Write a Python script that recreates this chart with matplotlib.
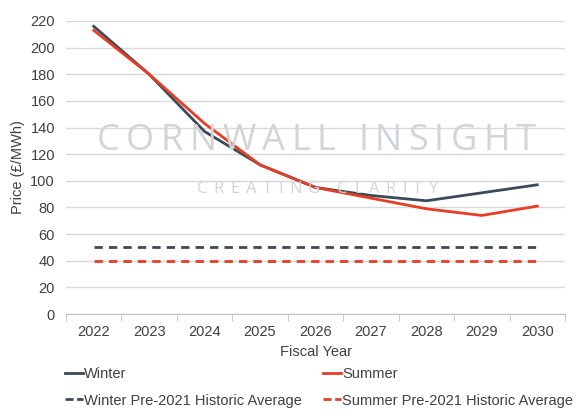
import matplotlib
matplotlib.use("Agg")
import matplotlib.pyplot as plt
from matplotlib.lines import Line2D

years = ["2022", "2023", "2024", "2025", "2026", "2027", "2028", "2029", "2030"]
winter = [216, 180, 137, 112, 95, 89, 85, 91, 97]
summer = [213, 180, 143, 112, 95, 87, 79, 74, 81]
winter_avg = [50] * 9
summer_avg = [40] * 9

WIN_C = "#3b4a5a"
SUM_C = "#e63d25"
TXT = "#404040"
WM = "#d1d5da"

plt.rcParams['font.family'] = ['Liberation Sans', 'DejaVu Sans']

fig = plt.figure(figsize=(5.78, 4.18), dpi=100)
ax = fig.add_axes([66/578, 1-314/418, 499/578, 293/418])

x = list(range(len(years)))
ax.plot(x, winter, color=WIN_C, lw=2, zorder=4)
ax.plot(x, summer, color=SUM_C, lw=2, zorder=5)
ax.plot(x, winter_avg, color=WIN_C, lw=2, ls=(0, (3, 2.2)), zorder=4)
ax.plot(x, summer_avg, color=SUM_C, lw=2, ls=(0, (3, 2.2)), zorder=4)

ax.set_xlim(-0.5, len(years) - 0.5)
ax.set_ylim(0, 220)
ax.set_yticks(range(0, 221, 20))
ax.yaxis.grid(True, color="#d9d9d9", lw=1)
ax.set_axisbelow(True)
for s in ["top", "right", "left"]:
    ax.spines[s].set_visible(False)
ax.spines["bottom"].set_color("#bfbfbf")
ax.tick_params(axis="y", length=0, labelsize=10.5, labelcolor=TXT, pad=8)
ax.set_xticks(x)
ax.set_xticklabels(years)
ax.tick_params(axis="x", which="major", length=0, labelsize=10.5, labelcolor=TXT, pad=8)
ax.set_xticks([i - 0.5 for i in range(len(years) + 1)], minor=True)
ax.tick_params(axis="x", which="minor", length=5, color="#bfbfbf")

ax.set_ylabel("Price (£/MWh)", fontsize=10.5, color=TXT, labelpad=4)
ax.set_xlabel("Fiscal Year", fontsize=10.5, color=TXT, labelpad=4)

# watermark with letter tracking, placed in pixel space
renderer = fig.canvas.get_renderer()

def tracked(text, x0_px, x1_px, yc_px, size):
    fam = ["Open Sans", "DejaVu Sans"]
    widths = []
    for ch in text:
        if ch == " ":
            widths.append(None)
            continue
        t = fig.text(0, 0, ch, fontsize=size, family=fam)
        widths.append(t.get_window_extent(renderer).width)
        t.remove()
    letters = [w for w in widths if w is not None]
    nsp = text.count(" ")
    ngaps = len(text) - 1
    space_w = size * 0.28 * 100 / 72
    gap = (x1_px - x0_px - sum(letters) - nsp * space_w) / ngaps
    cx = x0_px
    for ch, w in zip(text, widths):
        if w is None:
            cx += space_w + gap
            continue
        fig.text((cx + w / 2) / 578, 1 - yc_px / 418, ch, fontsize=size, family=fam,
                 color=WM, ha="center", va="center", zorder=1)
        cx += w + gap

tracked("CORNWALL INSIGHT", 97, 536, 141, 26)
tracked("CREATING CLARITY", 197, 438, 189, 12)

leg_dash = (0, (2.9, 1.3))
handles = [
    Line2D([], [], color=WIN_C, lw=2),
    Line2D([], [], color=WIN_C, lw=2, ls=leg_dash),
    Line2D([], [], color=SUM_C, lw=2),
    Line2D([], [], color=SUM_C, lw=2, ls=leg_dash),
]
labels = ["Winter", "Winter Pre-2021 Historic Average", "Summer", "Summer Pre-2021 Historic Average"]
fig.legend(handles, labels, loc="upper left", bbox_to_anchor=(52/578, 1-354/418),
           ncol=2, frameon=False, fontsize=10.5, handlelength=1.2, handletextpad=0.1,
           columnspacing=1.45, labelspacing=0.85, labelcolor=TXT)

fig.savefig("out.png", dpi=100)
